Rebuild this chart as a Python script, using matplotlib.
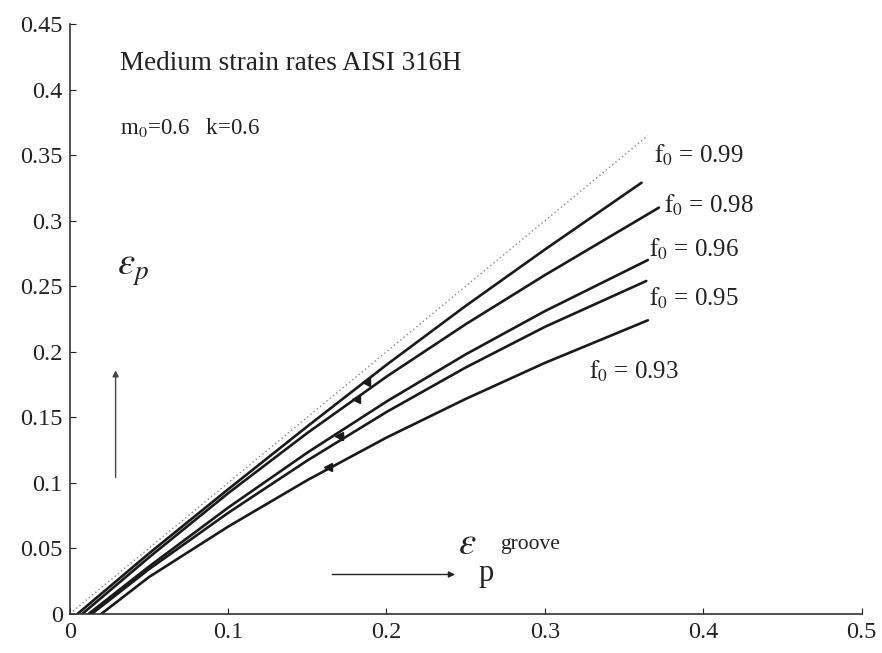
import matplotlib
matplotlib.use("Agg")
import matplotlib.pyplot as plt

# ---- data ----
f0_values = ["0.99", "0.98", "0.96", "0.95", "0.93"]

x_099 = [0.005, 0.05, 0.10, 0.15, 0.20, 0.25, 0.30, 0.361]
y_099 = [0.000, 0.046, 0.095, 0.143, 0.190, 0.235, 0.278, 0.329]

x_098 = [0.008, 0.05, 0.10, 0.15, 0.20, 0.25, 0.30, 0.372]
y_098 = [0.000, 0.043, 0.092, 0.138, 0.181, 0.221, 0.2585, 0.310]

x_096 = [0.012, 0.05, 0.10, 0.15, 0.20, 0.25, 0.30, 0.365]
y_096 = [0.000, 0.036, 0.081, 0.123, 0.162, 0.198, 0.231, 0.270]

x_095 = [0.014, 0.05, 0.10, 0.15, 0.20, 0.25, 0.30, 0.364]
y_095 = [0.000, 0.034, 0.077, 0.117, 0.154, 0.188, 0.219, 0.254]

x_093 = [0.020, 0.05, 0.10, 0.15, 0.20, 0.25, 0.30, 0.365]
y_093 = [0.000, 0.028, 0.0665, 0.102, 0.1345, 0.164, 0.1915, 0.224]

# markers on the curves
mark_x = [0.187, 0.181, 0.170, 0.163]
mark_y = [0.177, 0.164, 0.136, 0.112]

# dotted reference line (eps_p = eps_groove)
ref_x = [0.0, 0.365]
ref_y = [0.0, 0.365]

# label positions
label_x = [0.369, 0.375, 0.366, 0.366, 0.328]
label_y = [0.350, 0.312, 0.278, 0.241, 0.185]

x_ticks = [0, 0.1, 0.2, 0.3, 0.4, 0.5]
x_tick_labels = ["0", "0.1", "0.2", "0.3", "0.4", "0.5"]
y_ticks = [0, 0.05, 0.1, 0.15, 0.2, 0.25, 0.3, 0.35, 0.4, 0.45]
y_tick_labels = ["0", "0.05", "0.1", "0.15", "0.2", "0.25", "0.3", "0.35", "0.4", "0.45"]

serif = ["Liberation Serif", "DejaVu Serif"]
plt.rcParams["font.family"] = serif
plt.rcParams["mathtext.fontset"] = "stix"

ink = "#222222"

fig = plt.figure(figsize=(8.82, 6.53), dpi=100)
ax = fig.add_axes([0.079, 0.060, 0.898, 0.903])

ax.plot(ref_x, ref_y, linestyle=(0, (1, 2)), color="#888888", lw=1.0)

curves = [(x_099, y_099), (x_098, y_098), (x_096, y_096), (x_095, y_095), (x_093, y_093)]
for xs, ys in curves:
    ax.plot(xs, ys, color="#1a1a1a", lw=1.9, solid_capstyle="round",
            solid_joinstyle="round")

ax.plot(mark_x, mark_y, linestyle="none", marker="<", markersize=5.5, color="#1a1a1a")

for lbl, lx, ly in zip(f0_values, label_x, label_y):
    ax.text(lx, ly, r"$\mathrm{f}_0$ = " + lbl, fontsize=18, va="center", ha="left",
            color=ink)

ax.text(0.0315, 0.420, "Medium strain rates AISI 316H", fontsize=19.5,
        va="center", ha="left", color=ink)
ax.text(0.0315, 0.371, r"m$_0$=0.6   k=0.6", fontsize=16.5,
        va="center", ha="left", color=ink)

# y-axis label with arrow
ax.text(0.030, 0.263, r"$\varepsilon_p$", fontsize=28, va="center", ha="left",
        color=ink)
ax.annotate("", xy=(0.029, 0.188), xytext=(0.029, 0.102),
            arrowprops=dict(arrowstyle="-|>", color="#444444", lw=1.0,
                            mutation_scale=9))

# x-axis label with arrow
ax.text(0.245, 0.053, r"$\varepsilon$", fontsize=28, va="center", ha="left", color=ink)
ax.text(0.258, 0.031, r"p", fontsize=22, va="center", ha="left", color=ink)
ax.text(0.272, 0.053, r"groove", fontsize=15.5, va="center", ha="left", color=ink)
ax.annotate("", xy=(0.245, 0.030), xytext=(0.164, 0.030),
            arrowprops=dict(arrowstyle="-|>", color="#222222", lw=1.0,
                            mutation_scale=9))

ax.set_xlim(0, 0.5)
ax.set_ylim(0, 0.45)
ax.set_xticks(x_ticks)
ax.set_xticklabels(x_tick_labels)
ax.set_yticks(y_ticks)
ax.set_yticklabels(y_tick_labels)
ax.tick_params(direction="in", length=4, labelsize=17.5, colors=ink)
ax.tick_params(axis="x", pad=6)
ax.tick_params(axis="y", pad=5)
ax.spines["top"].set_visible(False)
ax.spines["right"].set_visible(False)
for s in ["left", "bottom"]:
    ax.spines[s].set_color("#333333")
    ax.spines[s].set_linewidth(1.2)

fig.savefig("out.png", dpi=100)
